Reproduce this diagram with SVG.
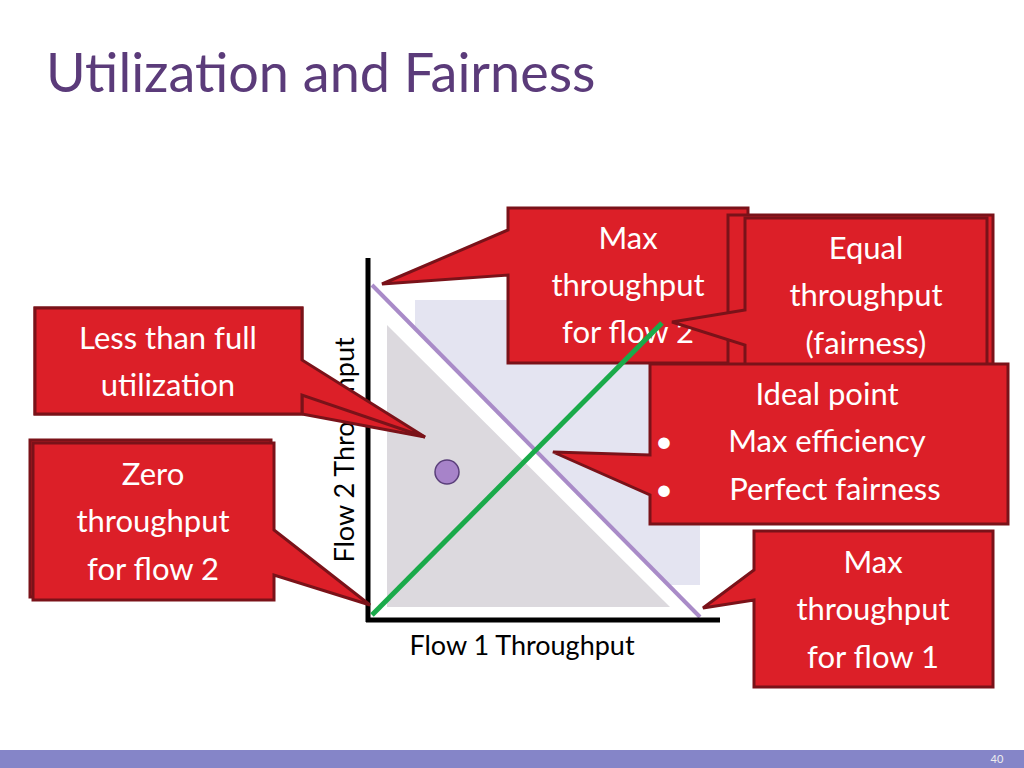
<svg xmlns="http://www.w3.org/2000/svg" width="1024" height="768" viewBox="0 0 1024 768">
<style>
.c{fill:#dc1f28;stroke:#7a1219;stroke-width:3;stroke-linejoin:miter}
.t{font-family:Lato,"Open Sans",sans-serif;font-size:31px;fill:#fff;text-anchor:middle}
.a{font-family:Lato,"Open Sans",sans-serif;font-size:27px;fill:#000;text-anchor:middle}
</style>
<rect width="1024" height="768" fill="#fff"/>
<text x="46" y="92" font-family="Lato,'Open Sans',sans-serif" font-size="54" fill="#5b3b7a">Utilization and Fairness</text>
<rect x="0" y="750" width="1024" height="18" fill="#8585c8"/>
<text x="997" y="763" font-family="Lato,sans-serif" font-size="11" fill="#eee" text-anchor="middle">40</text>
<g id="chart">
<rect x="415" y="300" width="285" height="285" fill="#e4e4f1"/>
<polygon points="372,285 700,617 372,617" fill="#fff"/>
<polygon points="387,325 387,607 670,607" fill="#dcd9de"/>
<line x1="372" y1="285" x2="700" y2="617" stroke="#a98bc8" stroke-width="4"/>
<line x1="368" y1="258" x2="368" y2="622" stroke="#000" stroke-width="5"/>
<line x1="366" y1="620" x2="720" y2="620" stroke="#000" stroke-width="5"/>
<circle cx="447" cy="472" r="12" fill="#a783c9" stroke="#5a3f7a" stroke-width="1.5"/>
<text class="a" x="522" y="655">Flow 1 Throughput</text>
<text class="a" transform="translate(354,450) rotate(-90)">Flow 2 Throughput</text>
</g>
<g id="less">
<path class="c" d="M35,308 H302 V414 H302 L425,437 L302,380 V414 H35 Z"/>
<path class="c" d="M35,308 H302 V360 L425,437 L302,395 V414 H35 Z"/>
<text class="t" x="168" y="349">Less than full</text><text class="t" x="168" y="396">utilization</text>
</g>
<g id="zero">
<rect x="30" y="440" width="241" height="157" fill="#dc1f28" stroke="#7a1219" stroke-width="3"/>
<path class="c" d="M33,443 H274 V530 L370,605 L274,575 V600 H33 Z"/>
<text class="t" x="153" y="485">Zero</text><text class="t" x="153" y="532">throughput</text><text class="t" x="153" y="580">for flow 2</text>
</g>
<g id="maxf2">
<path class="c" d="M508,208 H748 V363 H508 V275 L382,284 L508,230 Z"/>
<text class="t" x="628" y="249">Max</text><text class="t" x="628" y="296">throughput</text><text class="t" x="628" y="343">for flow 2</text>
</g>
<g id="connectors">
<line x1="372" y1="615" x2="662" y2="323" stroke="#1aaa4a" stroke-width="5"/>
</g>
<g id="equal">
<rect x="728" y="215" width="265" height="150" fill="#dc1f28" stroke="#7a1219" stroke-width="3"/>
<path class="c" d="M745,218 H987 V372 H745 V345 L672,322 L745,310 Z"/>
<text class="t" x="866" y="259">Equal</text><text class="t" x="866" y="306">throughput</text><text class="t" x="866" y="354">(fairness)</text>
</g>
<g id="ideal">
<path class="c" d="M650,364 H1008 V524 H650 V495 L553,452 L650,455 Z"/>
<text class="t" x="827" y="405">Ideal point</text>
<text class="t" x="664" y="452">•</text><text class="t" x="827" y="452">Max efficiency</text>
<text class="t" x="664" y="500">•</text><text class="t" x="835" y="500">Perfect fairness</text>
</g>
<g id="maxf1">
<path class="c" d="M754,531 H993 V687 H754 V600 L703,608 L754,570 Z"/>
<text class="t" x="873" y="573">Max</text><text class="t" x="873" y="620">throughput</text><text class="t" x="873" y="668">for flow 1</text>
</g>
</svg>
